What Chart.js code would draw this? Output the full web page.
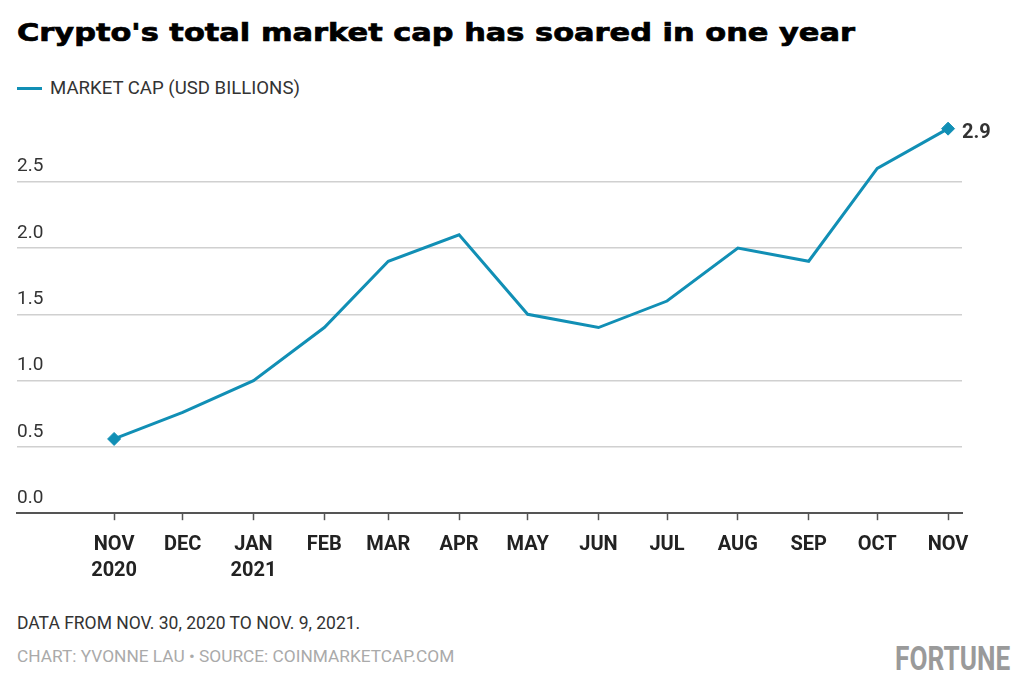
<!DOCTYPE html>
<html>
<head>
<meta charset="utf-8">
<script src="https://cdn.jsdelivr.net/npm/chart.js@4.4.1/dist/chart.umd.min.js"></script>
<style>
  html, body { margin: 0; padding: 0; background: #fff; }
  body { width: 1023px; height: 693px; position: relative; overflow: hidden; font-family: Roboto, sans-serif; }
  #chart { position: absolute; left: 0; top: 0; }
  .t { position: absolute; white-space: nowrap; }
  #title { left: 17px; top: 19.5px; font: bold 25px/25px "DejaVu Sans", sans-serif; color: #000; -webkit-text-stroke: 0.7px #000; transform-origin: 0 0; }
  #swatch { position: absolute; left: 17px; top: 86.5px; width: 25px; height: 3px; background: #118fb5; }
  #legend { left: 50px; top: 79.3px; font: 18.6px/18.6px Roboto, sans-serif; color: #333; }
  #note { left: 17px; top: 615.3px; font: 17.5px/17.5px Roboto, sans-serif; color: #333; }
  #credit { left: 17px; top: 648.3px; font: 17.3px/17.5px Roboto, sans-serif; color: #aaa; }
  #logo { right: 13px; top: 642.2px; font: bold 33px/33px Roboto, sans-serif; color: #9a9a9a; transform-origin: 100% 0; }
</style>
</head>
<body>
<div class="t" id="title">Crypto's total market cap has soared in one year</div>
<div id="swatch"></div>
<div class="t" id="legend">MARKET CAP (USD BILLIONS)</div>
<canvas id="chart" width="1023" height="600"></canvas>
<div class="t" id="note">DATA FROM NOV. 30, 2020 TO NOV. 9, 2021.</div>
<div class="t" id="credit">CHART: YVONNE LAU • SOURCE: COINMARKETCAP.COM</div>
<div class="t" id="logo">FORTUNE</div>
<script>
// ---- data ----
const monthDates = ['2020-11-01','2020-12-01','2021-01-01','2021-02-01','2021-03-01','2021-04-01',
                    '2021-05-01','2021-06-01','2021-07-01','2021-08-01','2021-09-01','2021-10-01','2021-11-01'];
const xLabels = [['NOV','2020'],'DEC',['JAN','2021'],'FEB','MAR','APR','MAY','JUN','JUL','AUG','SEP','OCT','NOV'];
const marketCap = [0.56, 0.76, 1.0, 1.4, 1.9, 2.1, 1.5, 1.4, 1.6, 2.0, 1.9, 2.6, 2.9];
const yTicks = [0, 0.5, 1.0, 1.5, 2.0, 2.5];
const endLabel = '2.9';

const LINE = '#118fb5';
const day0 = Date.parse(monthDates[0]);
const dayOffsets = monthDates.map(d => (Date.parse(d) - day0) / 864e5);
const points = dayOffsets.map((x, i) => ({ x: x, y: marketCap[i] }));

function fitWidth(id, target) {
  const el = document.getElementById(id);
  const w = el.getBoundingClientRect().width;
  el.style.transform = 'scaleX(' + (target / w) + ')';
}
fitWidth('title', 838);
fitWidth('logo', 115);

const endLabelPlugin = {
  id: 'endLabel',
  afterDatasetsDraw(chart) {
    const meta = chart.getDatasetMeta(0);
    const pt = meta.data[meta.data.length - 1];
    const ctx = chart.ctx;
    ctx.save();
    ctx.font = 'bold 20px Roboto';
    ctx.fillStyle = '#333';
    ctx.textAlign = 'left';
    ctx.textBaseline = 'middle';
    ctx.fillText(endLabel, pt.x + 14, pt.y + 4);
    ctx.restore();
  }
};

new Chart(document.getElementById('chart'), {
  type: 'line',
  data: {
    datasets: [{
      label: 'MARKET CAP (USD BILLIONS)',
      data: points,
      borderColor: LINE,
      backgroundColor: LINE,
      borderWidth: 3,
      tension: 0,
      clip: false,
      pointStyle: 'rectRot',
      pointRadius: c => (c.dataIndex === 0 || c.dataIndex === marketCap.length - 1) ? 6.5 : 0,
      pointBorderWidth: 1,
      pointBackgroundColor: LINE,
      pointBorderColor: LINE
    }]
  },
  options: {
    responsive: false,
    animation: false,
    layout: { padding: { left: 17, right: 61, top: 115.4, bottom: 6.8 } },
    plugins: { legend: { display: false }, title: { display: false }, tooltip: { enabled: false } },
    scales: {
      x: {
        type: 'linear',
        bounds: 'data',
        min: -42.5,
        max: 371.1,
        afterBuildTicks: s => { s.ticks = dayOffsets.map(v => ({ value: v })); },
        afterFit: s => { s.height = 80; },
        grid: { display: true, drawOnChartArea: false, drawTicks: true, tickLength: 7, tickColor: '#555', tickWidth: 1.5 },
        border: { display: true, color: '#555', width: 2 },
        ticks: {
          autoSkip: false,
          maxRotation: 0,
          padding: 12,
          color: '#222',
          font: { family: 'Roboto', weight: 'bold', size: 20, lineHeight: 1.3 },
          callback: (v, i) => xLabels[i]
        }
      },
      y: {
        min: 0,
        max: 3.0,
        afterBuildTicks: s => { s.ticks = yTicks.map(v => ({ value: v })); },
        afterFit: s => { s.width = 0; },
        grid: { drawTicks: false, lineWidth: 1.5, color: c => (c.tick && c.tick.value === 0) ? 'rgba(0,0,0,0)' : '#d0d0d0' },
        border: { display: false },
        ticks: {
          mirror: true,
          padding: 0,
          labelOffset: -15,
          color: '#333',
          font: { family: 'Roboto', size: 19 },
          callback: v => v.toFixed(1)
        }
      }
    }
  },
  plugins: [endLabelPlugin]
});
</script>
</body>
</html>
